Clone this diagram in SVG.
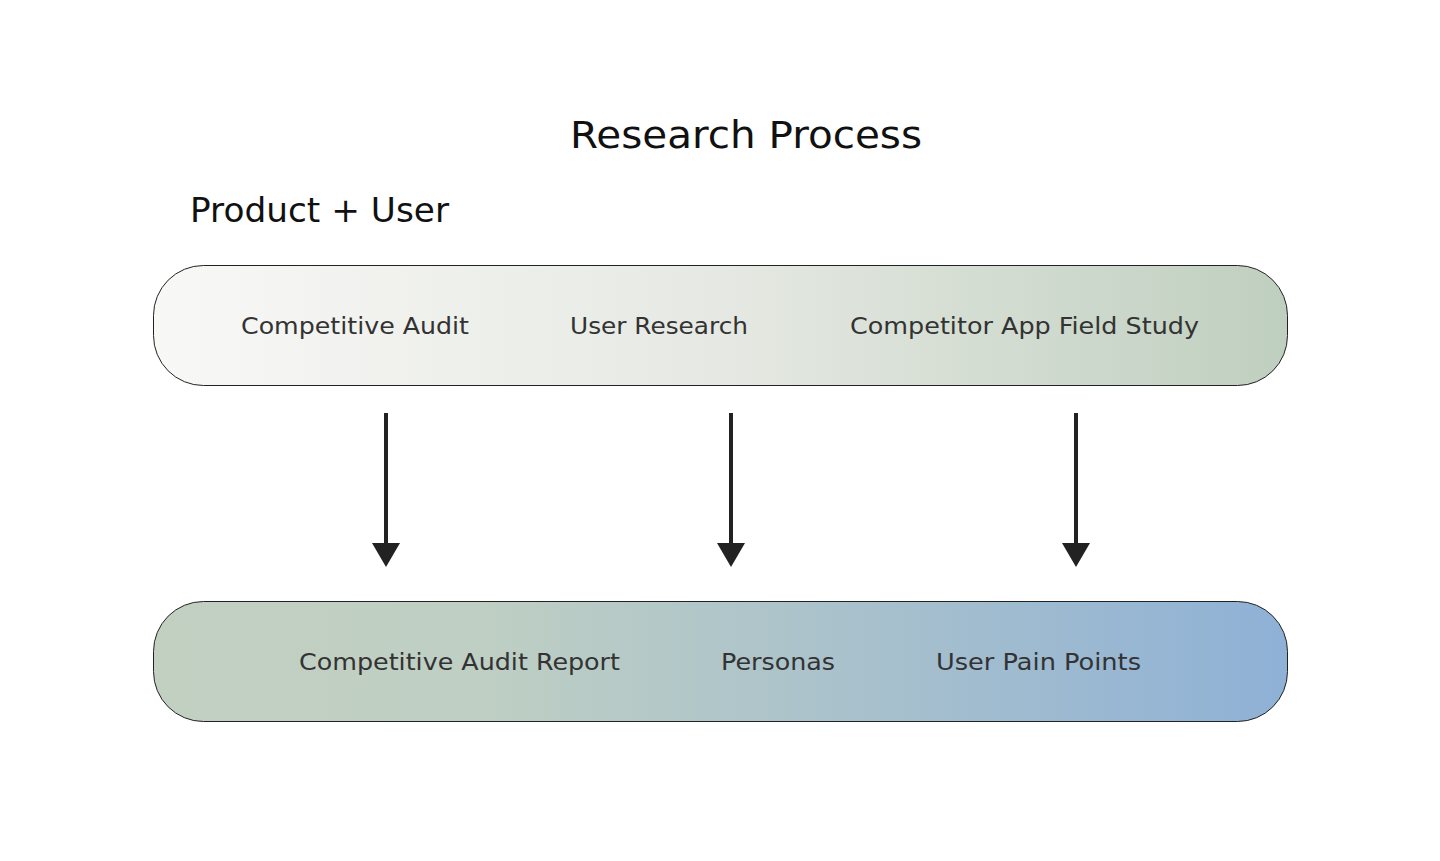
<svg xmlns="http://www.w3.org/2000/svg" width="1440" height="861" viewBox="0 0 1440 861">
<defs>
<linearGradient id="gTop" x1="0" y1="0" x2="1" y2="0">
<stop offset="0" stop-color="#f8f8f6"/>
<stop offset="0.5" stop-color="#e6e9e3"/>
<stop offset="1" stop-color="#bfcfbf"/>
</linearGradient>
<linearGradient id="gBot" x1="0" y1="0" x2="1" y2="0">
<stop offset="0" stop-color="#c2d0c2"/>
<stop offset="0.28" stop-color="#bfcfc3"/>
<stop offset="1" stop-color="#8fb1d6"/>
</linearGradient>
<marker id="arr" viewBox="0 0 24 28" refX="0" refY="14" markerWidth="24" markerHeight="28" markerUnits="userSpaceOnUse" orient="auto">
<path d="M0,0 L24,14 L0,28 Z" fill="#222"/>
</marker>
</defs>
<style>
.box{stroke:#222;stroke-width:1}
.lbl{font-family:"DejaVu Sans","Liberation Sans",sans-serif;font-size:23px;fill:#333}
.ttl{font-family:"DejaVu Sans","Liberation Sans",sans-serif;fill:#111}
.conn{stroke:#222;stroke-width:4;fill:none}
</style>
<rect width="1440" height="861" fill="#fff"/>
<text class="ttl" x="570" y="148" font-size="37" textLength="352" lengthAdjust="spacingAndGlyphs">Research Process</text>
<text class="ttl" x="190" y="222" font-size="33" textLength="259" lengthAdjust="spacingAndGlyphs">Product + User</text>
<g id="inputs">
<rect class="box" x="153.5" y="265.5" width="1134" height="120" rx="50" fill="url(#gTop)"/>
<text class="lbl" x="241" y="334" textLength="228" lengthAdjust="spacingAndGlyphs">Competitive Audit</text>
<text class="lbl" x="570" y="334" textLength="178" lengthAdjust="spacingAndGlyphs">User Research</text>
<text class="lbl" x="850" y="334" textLength="349" lengthAdjust="spacingAndGlyphs">Competitor App Field Study</text>
</g>
<g id="outputs">
<rect class="box" x="153.5" y="601.5" width="1134" height="120" rx="50" fill="url(#gBot)"/>
<text class="lbl" x="299" y="670" textLength="321" lengthAdjust="spacingAndGlyphs">Competitive Audit Report</text>
<text class="lbl" x="721" y="670" textLength="114" lengthAdjust="spacingAndGlyphs">Personas</text>
<text class="lbl" x="936" y="670" textLength="205" lengthAdjust="spacingAndGlyphs">User Pain Points</text>
</g>
<g id="connectors">
<line class="conn" x1="386" y1="413" x2="386" y2="543" marker-end="url(#arr)"/>
<line class="conn" x1="731" y1="413" x2="731" y2="543" marker-end="url(#arr)"/>
<line class="conn" x1="1076" y1="413" x2="1076" y2="543" marker-end="url(#arr)"/>
</g>
</svg>
